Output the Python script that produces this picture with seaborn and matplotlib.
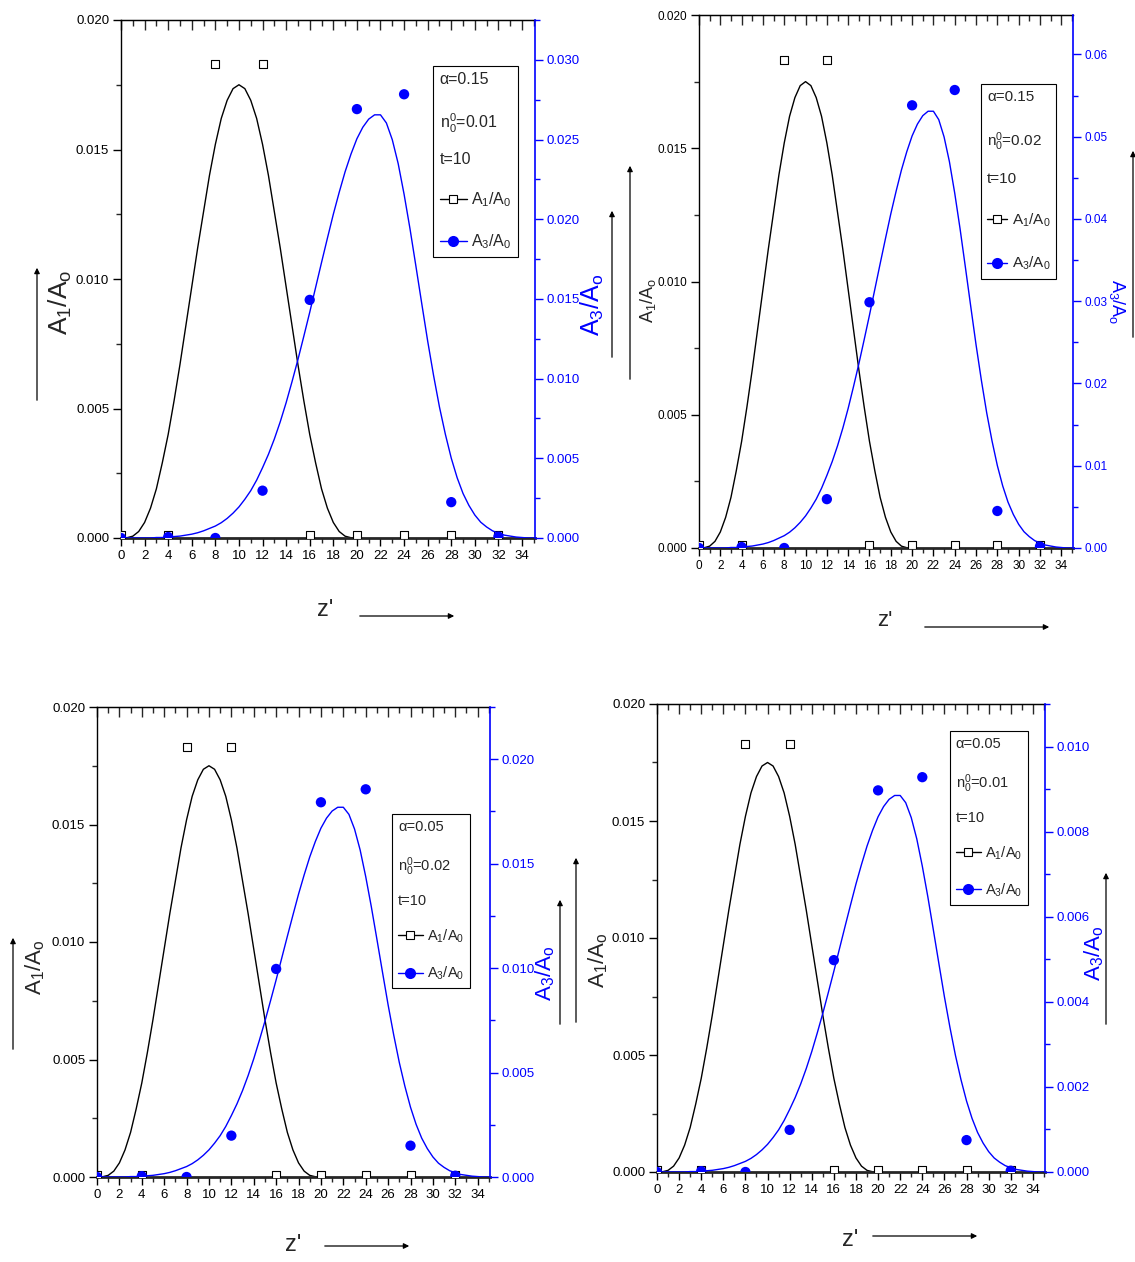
import numpy as np
import matplotlib
matplotlib.use("Agg")
import matplotlib.pyplot as plt
import seaborn as sns
from matplotlib.lines import Line2D
from matplotlib.patches import FancyArrowPatch
from matplotlib.ticker import MultipleLocator, FormatStrFormatter

# ---- data ----
# A1/A0 curve (same in all four panels), z' = 0 .. 20 step 0.5
z_a1 = np.arange(0, 20.5, 0.5)
a1_curve = np.array([0, 0.01, 0.07, 0.25, 0.6, 1.15, 1.9, 2.9, 4.0, 5.3,
                     6.7, 8.2, 9.7, 11.2, 12.6, 14.0, 15.2, 16.2, 16.9, 17.35,
                     17.5,
                     17.35, 16.9, 16.2, 15.2, 14.0, 12.6, 11.2, 9.7, 8.2, 6.7,
                     5.3, 4.0, 2.9, 1.9, 1.15, 0.6, 0.25, 0.07, 0.01, 0]) * 1e-3

# A3/A0 curve for alpha=0.05, n0=0.01 (lower right panel), z' = 0 .. 35 step 0.5
z_a3 = np.arange(0, 35.5, 0.5)
a3_curve = np.array([0, 0, 0, 0, 0, 0, 0.01, 0.01, 0.02, 0.03,
                     0.04, 0.06, 0.08, 0.11, 0.15, 0.20, 0.25, 0.32, 0.41, 0.52,
                     0.65, 0.81, 0.99, 1.21, 1.47, 1.75, 2.07, 2.43, 2.83, 3.27,
                     3.73, 4.22, 4.72, 5.24, 5.76, 6.27, 6.77, 7.23, 7.66, 8.03,
                     8.35, 8.59, 8.76, 8.85, 8.85, 8.68, 8.33, 7.83, 7.19, 6.47,
                     5.69, 4.90, 4.12, 3.40, 2.74, 2.17, 1.67, 1.26, 0.93, 0.68,
                     0.48, 0.33, 0.23, 0.15, 0.10, 0.06, 0.04, 0.02, 0.01, 0,
                     0]) * 1e-3

# symbols
z_pts = [0, 4, 8, 12, 16, 20, 24, 28, 32]
a1_pts = [0.0001, 0.0001, 0.0183, 0.0183, 0.0001, 0.0001, 0.0001, 0.0001, 0.0001]
a3_pts = np.array([0, 0.02, 0, 0.99, 4.98, 8.97, 9.28, 0.75, 0.03]) * 1e-3

# panel parameters
alphas = ["0.15", "0.15", "0.05", "0.05"]
n0s = ["0.01", "0.02", "0.02", "0.01"]
a3_scale = [3, 6, 2, 1]
right_ymax = [0.0325, 0.0648, 0.0225, 0.011]
right_step = [0.005, 0.01, 0.005, 0.002]
right_fmt = ["%.3f", "%.2f", "%.3f", "%.3f"]

W, H = 1135, 1262
BLUE = "#0000ff"

sns.set_style("ticks")
plt.rcParams["font.family"] = ["Liberation Sans Narrow", "Liberation Sans", "DejaVu Sans"]
plt.rcParams["mathtext.default"] = "regular"

fig = plt.figure(figsize=(W / 100, H / 100), dpi=100)

# pixel boxes: left, top, right, bottom
boxes = [(121, 20, 535, 538), (699, 15, 1073, 548),
         (97, 707, 490, 1177), (657, 704, 1045, 1172)]
leg_anchor = [(0.754, 0.911), (0.754, 0.871), (0.751, 0.772), (0.755, 0.942)]
tick_fs = [9.5, 8.5, 9.5, 9.5]
leg_fs = [11.5, 11, 10.5, 10.5]
leg_ls = [2.45, 2.7, 2.4, 2.4]
leg_sp = [1.45, 1.7, 1.35, 1.35]
leg_hl = [1.7, 1.3, 1.7, 1.7]


def ftext(x, y, s, **kw):
    fig.text(x / W, 1 - y / H, s, ha="center", va="center", **kw)


def farrow(x0, y0, x1, y1):
    fig.add_artist(FancyArrowPatch((x0 / W, 1 - y0 / H), (x1 / W, 1 - y1 / H),
                                   transform=fig.transFigure, arrowstyle="-|>",
                                   mutation_scale=8, lw=0.9, color="k"))


for i in range(4):
    l, t, r, b = boxes[i]
    ax = fig.add_axes([l / W, 1 - b / H, (r - l) / W, (b - t) / H])
    ax2 = ax.twinx()

    # A1 curve + squares
    sns.lineplot(x=z_a1, y=a1_curve, color="k", lw=1, ax=ax)
    sns.scatterplot(x=z_pts, y=a1_pts, marker="s", s=30, color="white",
                    edgecolor="k", linewidth=0.8, ax=ax, zorder=3)
    # A3 curve + dots
    sns.lineplot(x=z_a3, y=a3_curve * a3_scale[i], color=BLUE, lw=1, ax=ax2)
    sns.scatterplot(x=z_pts, y=a3_pts * a3_scale[i], marker="o", s=55, color=BLUE,
                    edgecolor="none", ax=ax2, zorder=3)

    ax.set_xlim(0, 35.1)
    ax.set_ylim(0, 0.020)
    ax2.set_ylim(0, right_ymax[i])
    ax.set_xlabel("")
    ax.set_ylabel("")
    ax2.set_ylabel("")

    ax.xaxis.set_major_locator(MultipleLocator(2))
    ax.xaxis.set_minor_locator(MultipleLocator(1))
    ax.yaxis.set_major_locator(MultipleLocator(0.005))
    ax.yaxis.set_minor_locator(MultipleLocator(0.0025))
    ax.yaxis.set_major_formatter(FormatStrFormatter("%.3f"))
    ax.tick_params(which="major", direction="out", length=6, width=1,
                   labelsize=tick_fs[i], colors="k", right=False, pad=2.5)
    ax.tick_params(which="minor", direction="out", length=3.5, width=1, right=False)

    ax2.yaxis.set_major_locator(MultipleLocator(right_step[i]))
    ax2.yaxis.set_minor_locator(MultipleLocator(right_step[i] / 2))
    ax2.yaxis.set_major_formatter(FormatStrFormatter(right_fmt[i]))
    ax2.tick_params(axis="y", which="major", direction="out", length=6, width=1,
                    colors=BLUE, labelsize=tick_fs[i], pad=2.5)
    ax2.tick_params(axis="y", which="minor", direction="out", length=3.5, width=1,
                    colors=BLUE)

    top = ax.secondary_xaxis("top")
    top.xaxis.set_major_locator(MultipleLocator(2))
    top.xaxis.set_minor_locator(MultipleLocator(1))
    top.tick_params(axis="x", which="major", direction="in", length=7, width=1,
                    labeltop=False)
    top.tick_params(axis="x", which="minor", direction="in", length=4, width=1)

    for s in ["left", "top"]:
        ax.spines[s].set_color("k")
        ax.spines[s].set_linewidth(1)
    ax.spines["bottom"].set_linewidth(2)
    ax.spines["right"].set_visible(False)
    for s in ["left", "top", "bottom"]:
        ax2.spines[s].set_visible(False)
    ax2.spines["right"].set_color(BLUE)
    ax2.spines["right"].set_linewidth(1.2)

    handles = [Line2D([], [], color="k", lw=1, marker="s", ms=5.5, mfc="white",
                      mec="k", mew=0.8),
               Line2D([], [], color=BLUE, lw=1, marker="o", ms=8, mfc=BLUE, mec="none")]
    labels = ["A$_1$/A$_0$", "A$_3$/A$_0$"]
    title = "\u03b1=" + alphas[i] + "\nn$_0^0$=" + n0s[i] + "\nt=10"
    leg = ax2.legend(handles, labels, title=title, alignment="left",
                     loc="upper left", bbox_to_anchor=leg_anchor[i], borderaxespad=0,
                     frameon=True, fancybox=False, edgecolor="k", framealpha=1,
                     fontsize=leg_fs[i], title_fontsize=leg_fs[i],
                     handlelength=leg_hl[i], handletextpad=0.3, borderpad=0.4,
                     labelspacing=leg_sp[i])
    leg.get_frame().set_linewidth(0.8)
    leg.get_title().set_linespacing(leg_ls[i])

# axis titles with arrows
lab_font = ["Liberation Sans", "DejaVu Sans"]
ftext(60, 302, "A$_1$/A$_o$", rotation=90, fontsize=19, family=lab_font)
farrow(37, 403, 37, 265)
ftext(592, 305, "A$_3$/A$_o$", rotation=90, fontsize=18, family=lab_font, color=BLUE)
farrow(612, 360, 612, 208)
ftext(648, 300, "A$_1$/A$_o$", rotation=90, fontsize=13, family=lab_font)
farrow(630, 382, 630, 163)
ftext(1117, 302, "A$_3$/A$_o$", rotation=-90, fontsize=13, family=lab_font, color=BLUE)
farrow(1133, 340, 1133, 148)
ftext(35, 967, "A$_1$/A$_o$", rotation=90, fontsize=16, family=lab_font)
farrow(13, 1052, 13, 935)
ftext(545, 973, "A$_3$/A$_o$", rotation=90, fontsize=16, family=lab_font, color=BLUE)
farrow(560, 1027, 560, 897)
ftext(598, 960, "A$_1$/A$_o$", rotation=90, fontsize=16, family=lab_font)
farrow(576, 1025, 576, 855)
ftext(1094, 953, "A$_3$/A$_o$", rotation=90, fontsize=16, family=lab_font, color=BLUE)
farrow(1106, 1027, 1106, 870)

ftext(325, 610, "z'", fontsize=17)
farrow(357, 616, 457, 616)
ftext(885, 620, "z'", fontsize=16)
farrow(922, 627, 1052, 627)
ftext(293, 1245, "z'", fontsize=17)
farrow(322, 1246, 412, 1246)
ftext(850, 1240, "z'", fontsize=17)
farrow(870, 1236, 980, 1236)

fig.savefig("out.png", dpi=100)
